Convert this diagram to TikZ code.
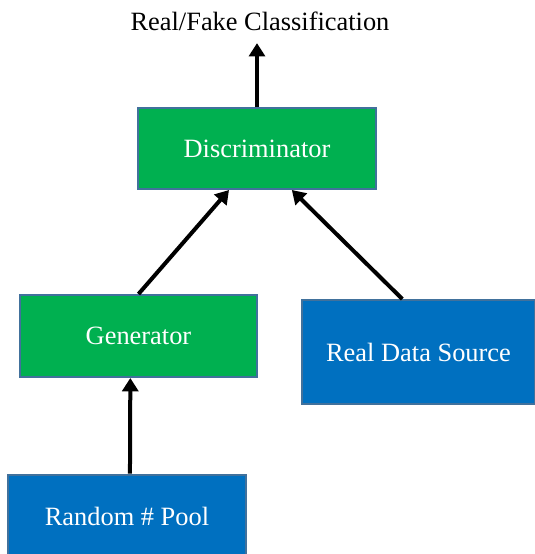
\documentclass[tikz,border=0pt]{standalone}
\usepackage{fontspec}
\setmainfont{Liberation Serif}
\usetikzlibrary{arrows.meta}
\definecolor{boxgreen}{HTML}{00B050}
\definecolor{boxblue}{HTML}{0070C0}
\definecolor{boxline}{HTML}{41719C}
\begin{document}
\begin{tikzpicture}[x=0.75pt,y=-0.75pt,
  flow/.style={-{Triangle[width=12pt,length=10pt]},line width=3pt},
  net node/.style={rectangle,draw=boxline,line width=1.5pt,fill=boxgreen,text=white,
    inner sep=0pt,font=\fontsize{19.8}{24}\selectfont},
  data node/.style={net node,fill=boxblue}]

  \useasboundingbox (0,0) rectangle (535,554);

  \node[font=\fontsize{19.8}{24}\selectfont] (title) at (260,21) {Real/Fake Classification};
  \node[net node,minimum width=178.5pt,minimum height=60.75pt] (disc) at (257,148.5) {Discriminator};
  \node[net node,minimum width=177.75pt,minimum height=61.5pt] (gen) at (138.5,336) {Generator};
  \node[data node,minimum width=174.75pt,minimum height=78pt] (real) at (418.5,352) {Real Data Source};
  \node[data node,minimum width=178.5pt,minimum height=62pt] (pool) at (127,516) {Random \# Pool};

  \draw[flow,shorten >=6pt] (disc.north) -- (disc.north |- title.south);
  \draw[flow] (gen.north) -- (disc.-124);
  \draw[flow] (real.107) -- (disc.-50);
  \draw[flow] (pool.86) -- (gen.-101);
\end{tikzpicture}
\end{document}
